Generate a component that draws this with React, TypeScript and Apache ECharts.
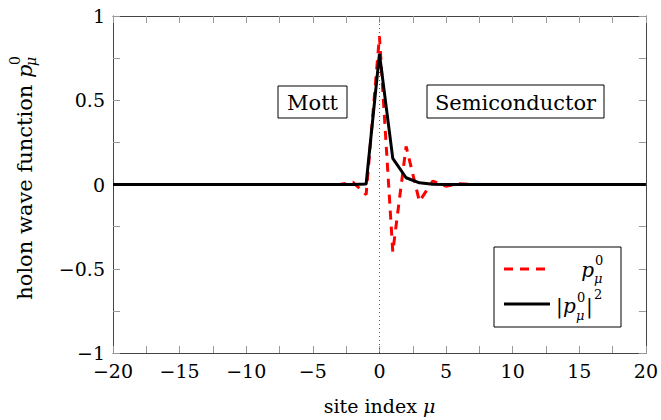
import React, { useEffect, useRef } from "react";
import * as echarts from "echarts";

const sites = [
  -20, -19, -18, -17, -16, -15, -14, -13, -12, -11, -10, -9, -8, -7, -6, -5, -4, -3, -2, -1,
  0, 1, 2, 3, 4, 5, 6, 7, 8, 9, 10, 11, 12, 13, 14, 15, 16, 17, 18, 19, 20,
];
const pValues = [
  0, 0, 0, 0, 0, 0, 0, 0, 0, 0, 0, 0, 0, 0, 0, 0, 0, 0, 0.014, -0.06,
  0.88, -0.4, 0.226, -0.1, 0.02, -0.01, 0.005, 0, 0, 0, 0, 0, 0, 0, 0, 0, 0, 0, 0, 0, 0,
];
const p2Values = [
  0, 0, 0, 0, 0, 0, 0, 0, 0, 0, 0, 0, 0, 0, 0, 0, 0, 0, 0, 0.003,
  0.775, 0.155, 0.04, 0.01, 0.001, 0, 0, 0, 0, 0, 0, 0, 0, 0, 0, 0, 0, 0, 0, 0, 0,
];
const xTicks = [-20, -15, -10, -5, 0, 5, 10, 15, 20];
const yTicks = [-1, -0.5, 0, 0.5, 1];

const FONT = "DejaVu Serif";

const fmt = (v: number) => (v < 0 ? "\u2212" + String(-v) : String(v));

export default function App() {
  const ref = useRef<HTMLDivElement>(null);
  useEffect(() => {
    if (!ref.current) return;
    const chart = echarts.init(ref.current, undefined, { renderer: "svg" });
    const gridL = 113, gridR = 14, gridT = 16, gridB = 66;
    const axisLine = { show: true, onZero: false, lineStyle: { color: "#444", width: 1 } };
    const tick = { show: true, inside: true, length: 7, lineStyle: { color: "#999", width: 1 } };
    const minor = { show: true, splitNumber: 2, length: 7, lineStyle: { color: "#999", width: 1 } };
    const labelStyle = { fontFamily: FONT, fontSize: 19, color: "#000" };

    const italic = { fontFamily: FONT, fontStyle: "italic" as const, fill: "#000" };
    const roman = { fontFamily: FONT, fill: "#000" };

    chart.setOption({
      animation: false,
      backgroundColor: "#fff",
      grid: { left: gridL, right: gridR, top: gridT, bottom: gridB },
      xAxis: [
        {
          type: "value",
          min: -20,
          max: 20,
          interval: 5,
          axisLine,
          axisTick: tick,
          minorTick: { ...minor },
          splitLine: { show: false },
          axisLabel: {
            ...labelStyle,
            margin: 8,
            formatter: (v: number) => (xTicks.includes(v) ? fmt(v) : ""),
          },
          name: "site index {i|\u03bc}",
          nameLocation: "middle",
          nameGap: 43,
          nameTextStyle: {
            fontFamily: FONT,
            fontSize: 19,
            color: "#000",
            rich: { i: { fontFamily: FONT, fontSize: 19, fontStyle: "italic", color: "#000" } },
          },
        },
        {
          type: "value",
          position: "top",
          min: -20,
          max: 20,
          interval: 5,
          axisLine,
          axisTick: tick,
          minorTick: { ...minor },
          splitLine: { show: false },
          axisLabel: { show: false },
        },
      ],
      yAxis: [
        {
          type: "value",
          min: -1,
          max: 1,
          interval: 0.5,
          axisLine,
          axisTick: tick,
          minorTick: { ...minor },
          splitLine: { show: false },
          axisLabel: {
            ...labelStyle,
            margin: 8,
            formatter: (v: number) => (yTicks.includes(v) ? fmt(v) : ""),
          },
        },
        {
          type: "value",
          position: "right",
          min: -1,
          max: 1,
          interval: 0.5,
          axisLine,
          axisTick: tick,
          minorTick: { ...minor },
          splitLine: { show: false },
          axisLabel: { show: false },
        },
      ],
      series: [
        {
          type: "line",
          name: "p",
          data: sites.map((s, i) => [s, pValues[i]]),
          showSymbol: false,
          symbol: "none",
          lineStyle: { color: "#ff0000", width: 3, type: [9, 7] },
          z: 2,
          markLine: {
            silent: true,
            symbol: "none",
            label: { show: false },
            lineStyle: { color: "#555", width: 1, type: [1, 3] },
            data: [{ xAxis: 0 }],
            z: 1,
          },
        },
        {
          type: "line",
          name: "p2",
          data: sites.map((s, i) => [s, p2Values[i]]),
          showSymbol: false,
          symbol: "none",
          lineStyle: { color: "#000", width: 3 },
          z: 3,
        },
      ],
      graphic: [
        {
          type: "rect",
          shape: { x: 278, y: 86, width: 69, height: 32 },
          style: { fill: "#fff", stroke: "#000", lineWidth: 1 },
          z: 10,
        },
        {
          type: "text",
          x: 312.5,
          y: 103,
          style: { ...roman, text: "Mott", fontSize: 21, align: "center", verticalAlign: "middle" },
          z: 11,
        },
        {
          type: "rect",
          shape: { x: 427, y: 85, width: 177, height: 33 },
          style: { fill: "#fff", stroke: "#000", lineWidth: 1 },
          z: 10,
        },
        {
          type: "text",
          x: 515.5,
          y: 103,
          style: { ...roman, text: "Semiconductor", fontSize: 21, align: "center", verticalAlign: "middle" },
          z: 11,
        },
        {
          type: "rect",
          shape: { x: 494, y: 247, width: 127, height: 80 },
          style: { fill: "#fff", stroke: "#000", lineWidth: 1 },
          z: 10,
        },
        {
          type: "line",
          shape: { x1: 504, y1: 269, x2: 548, y2: 269 },
          style: { stroke: "#ff0000", lineWidth: 3, lineDash: [9, 7] },
          z: 11,
        },
        {
          type: "line",
          shape: { x1: 504, y1: 304, x2: 550, y2: 304 },
          style: { stroke: "#000", lineWidth: 3 },
          z: 11,
        },
        // p_mu^0
        { type: "text", x: 594, y: 270, style: { ...italic, text: "p", fontSize: 20, align: "right", verticalAlign: "middle" }, z: 11 },
        { type: "text", x: 594, y: 278, style: { ...italic, text: "\u03bc", fontSize: 13, align: "left", verticalAlign: "middle" }, z: 11 },
        { type: "text", x: 595, y: 260, style: { ...roman, text: "0", fontSize: 13, align: "left", verticalAlign: "middle" }, z: 11 },
        // |p_mu^0|^2
        { type: "text", x: 556, y: 306, style: { ...roman, text: "|", fontSize: 20, align: "left", verticalAlign: "middle" }, z: 11 },
        { type: "text", x: 563, y: 306, style: { ...italic, text: "p", fontSize: 20, align: "left", verticalAlign: "middle" }, z: 11 },
        { type: "text", x: 576, y: 315, style: { ...italic, text: "\u03bc", fontSize: 13, align: "left", verticalAlign: "middle" }, z: 11 },
        { type: "text", x: 577, y: 297, style: { ...roman, text: "0", fontSize: 13, align: "left", verticalAlign: "middle" }, z: 11 },
        { type: "text", x: 586, y: 306, style: { ...roman, text: "|", fontSize: 20, align: "left", verticalAlign: "middle" }, z: 11 },
        { type: "text", x: 594, y: 294, style: { ...roman, text: "2", fontSize: 13, align: "left", verticalAlign: "middle" }, z: 11 },
        {
          type: "group",
          x: 25,
          y: 78,
          rotation: Math.PI / 2,
          children: [
            { type: "text", x: 0, y: 0, style: { ...roman, text: "holon wave function ", fontSize: 21, align: "right", verticalAlign: "middle" } },
            { type: "text", x: 0, y: 0, style: { ...italic, text: "p", fontSize: 21, align: "left", verticalAlign: "middle" } },
            { type: "text", x: 12, y: 6, style: { ...italic, text: "\u03bc", fontSize: 14, align: "left", verticalAlign: "middle" } },
            { type: "text", x: 13, y: -10, style: { ...roman, text: "0", fontSize: 14, align: "left", verticalAlign: "middle" } },
          ],
        },
      ],
    });
    return () => chart.dispose();
  }, []);
  return <div ref={ref} style={{ width: 661, height: 420, position: "absolute", left: 0, top: 0 }} />;
}
